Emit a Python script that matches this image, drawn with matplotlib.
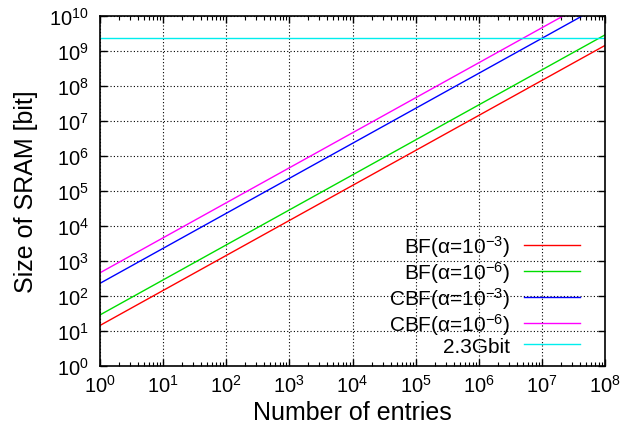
import matplotlib
matplotlib.use("Agg")
import matplotlib.pyplot as plt
from matplotlib.ticker import LogLocator, NullFormatter

plt.rcParams['font.family'] = ['Liberation Sans', 'DejaVu Sans']
plt.rcParams['mathtext.fontset'] = 'custom'
plt.rcParams['mathtext.rm'] = 'Liberation Sans'
plt.rcParams['mathtext.it'] = 'Liberation Sans:italic'

# data: endpoints of each (straight on log-log) line
entries = [1e0, 1e8]
bf_1e3 = [14.4, 1.44e9]
bf_1e6 = [28.8, 2.88e9]
cbf_1e3 = [230, 2.3e10]
cbf_1e6 = [460, 4.6e10]
sram_limit = [2.3e9, 2.3e9]

labels = ['BF(α=10$^{-3}$)', 'BF(α=10$^{-6}$)',
          'CBF(α=10$^{-3}$)', 'CBF(α=10$^{-6}$)', '2.3Gbit']
colors = ['#ff0000', '#00dd00', '#0000ff', '#ff00ff', '#00eeee']

fig = plt.figure(figsize=(6.34, 4.35), dpi=100)
ax = fig.add_axes([0.1577, 0.1563, 0.7966, 0.8047])

series = [bf_1e3, bf_1e6, cbf_1e3, cbf_1e6, sram_limit]
for s, lab, c in zip(series, labels, colors):
    ax.plot(entries, s, color=c, lw=1.0, label=lab)

ax.set_xscale('log')
ax.set_yscale('log')
ax.set_xlim(1, 1e8)
ax.set_ylim(1, 1e10)
ax.xaxis.set_major_locator(LogLocator(base=10, numticks=20))
ax.yaxis.set_major_locator(LogLocator(base=10, numticks=20))
ax.xaxis.set_minor_locator(LogLocator(base=10, subs=range(2, 10), numticks=20))
ax.xaxis.set_minor_formatter(NullFormatter())
ax.yaxis.set_minor_locator(plt.NullLocator())

ax.grid(True, which='major', color='black', linestyle=(0, (1, 2)), lw=0.8)
ax.tick_params(which='both', direction='in', top=True, right=True, labelsize=14.5)
ax.tick_params(which='major', length=5, width=1)
ax.tick_params(which='minor', length=3, width=0.8)
ax.tick_params(axis='x', pad=6)
ax.tick_params(axis='y', pad=8)
for sp in ax.spines.values():
    sp.set_linewidth(1.2)

ax.set_xlabel('Number of entries', fontsize=18, labelpad=3)
ax.set_ylabel('Size of SRAM [bit]', fontsize=18, labelpad=8)

leg = ax.legend(loc='lower right', fontsize=15, frameon=False, markerfirst=False,
                handlelength=2.7, handletextpad=0.67, labelspacing=0.0,
                borderaxespad=0.1, bbox_to_anchor=(0.972, 0.0))
for t in leg.get_texts():
    t.set_ha('right')
leg._legend_box.align = 'right'

fig.savefig('out.png', dpi=100)
